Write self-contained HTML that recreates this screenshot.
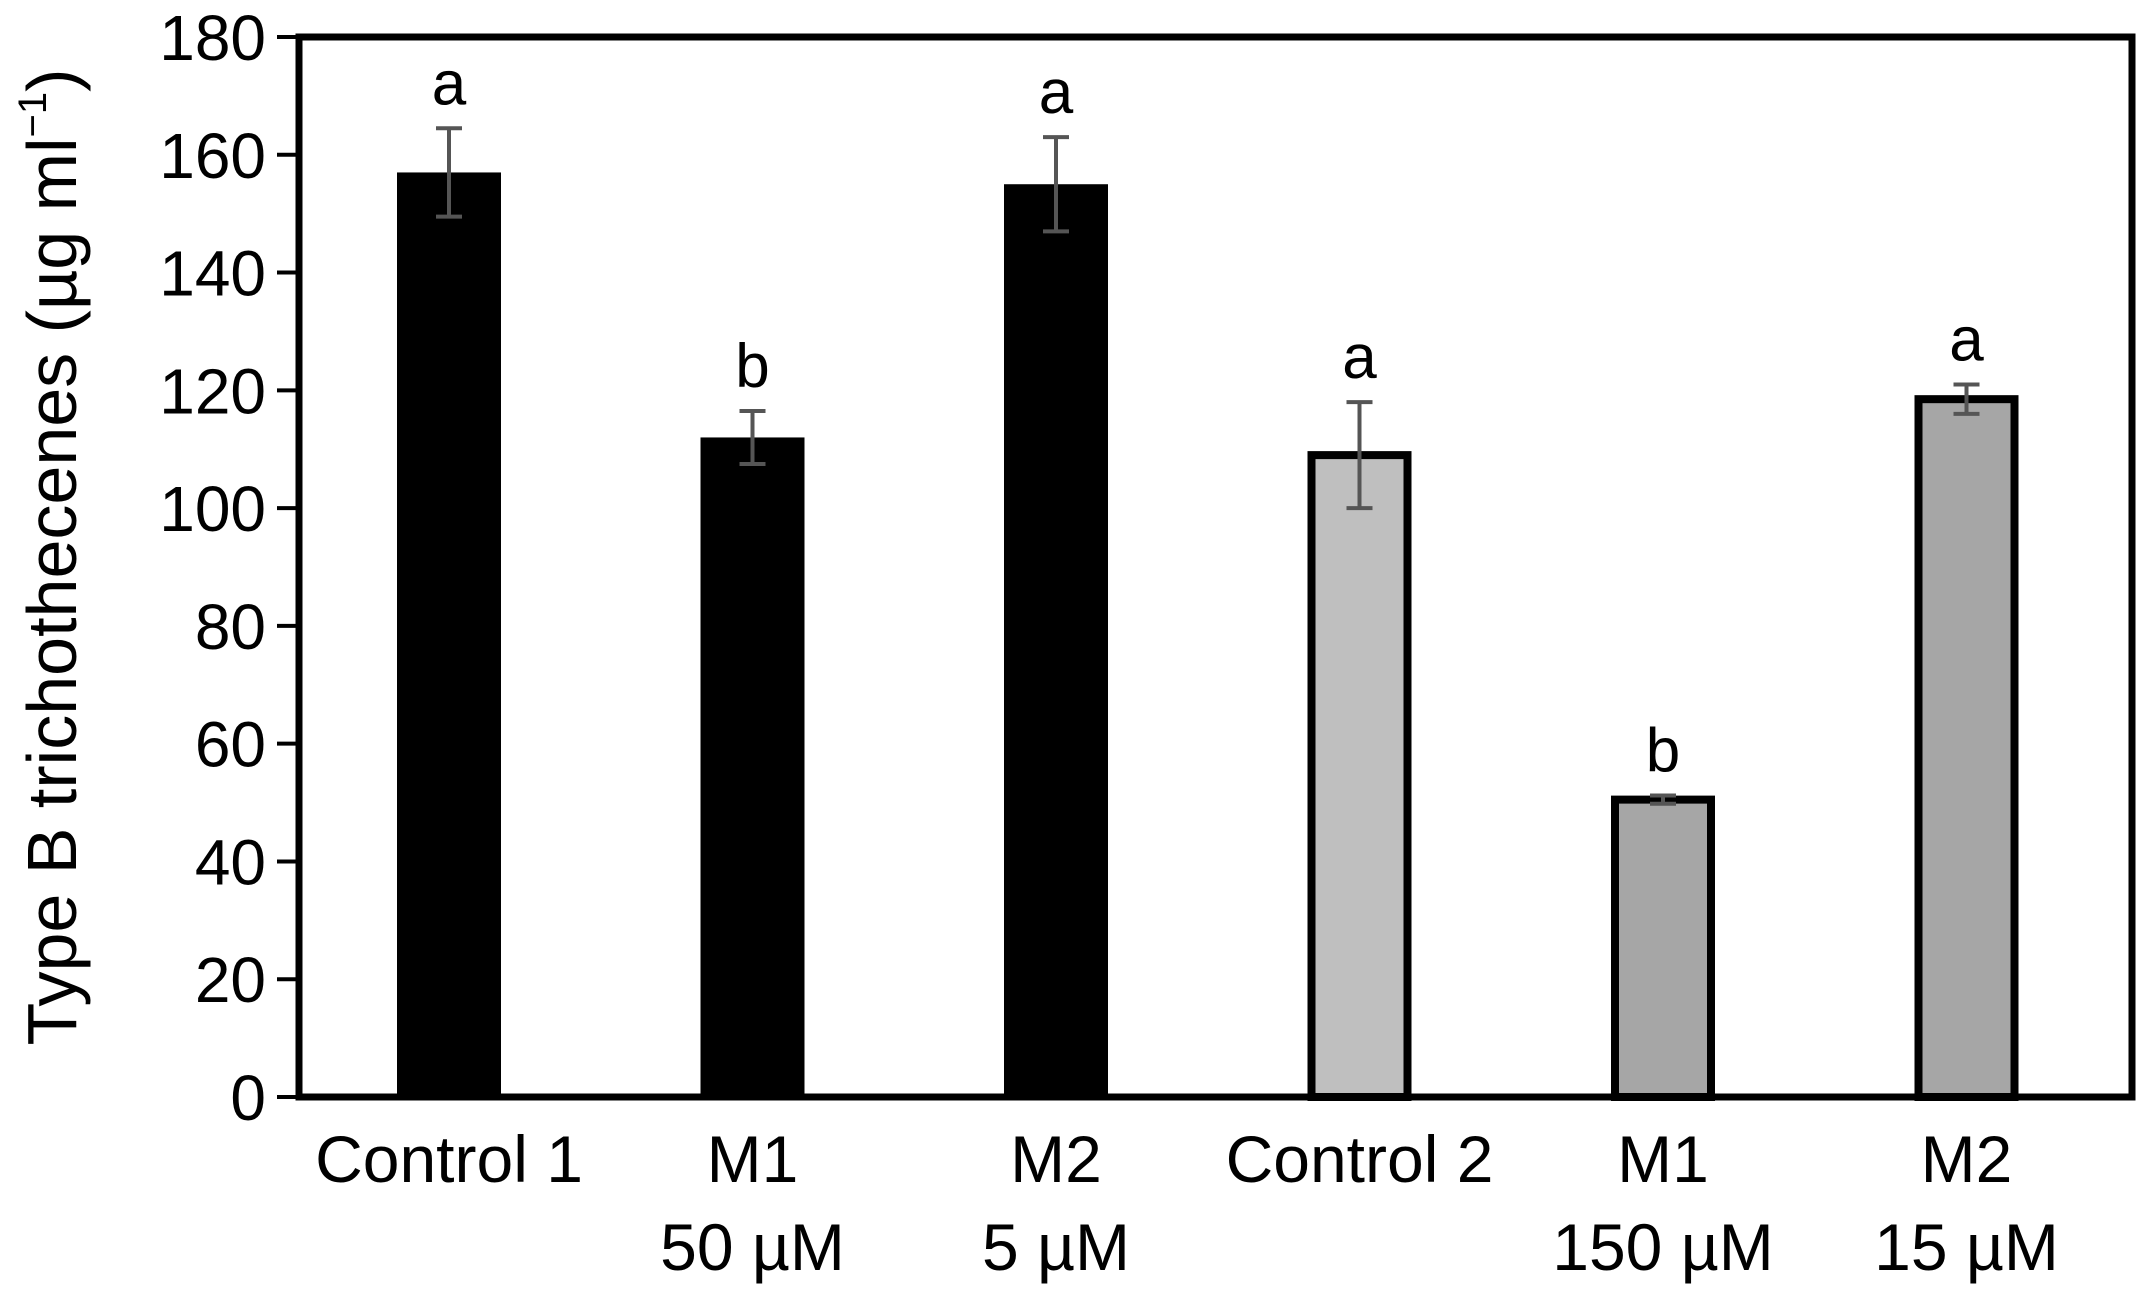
<!DOCTYPE html>
<html><head><meta charset="utf-8"><style>
html,body{margin:0;padding:0;background:#fff;}
svg{display:block;font-family:"Liberation Sans",Arial,sans-serif;}
</style></head><body>
<svg id="chart" width="2140" height="1293" viewBox="0 0 2140 1293">
<text transform="translate(76,557) rotate(-90)" text-anchor="middle" font-size="70">Type B trichothecenes (µg ml<tspan font-size="40" dy="-30">−1</tspan><tspan dy="30">)</tspan></text>
</svg>
<script>
const categories=[["Control 1"],["M1","50 µM"],["M2","5 µM"],["Control 2"],["M1","150 µM"],["M2","15 µM"]];
const values=[157,112,155,109,50.5,118.5];
const errors=[7.5,4.5,8,9,0.7,2.5];
const letters=["a","b","a","a","b","a"];
const fills=["#000000","#000000","#000000","#bfbfbf","#a6a6a6","#a6a6a6"];
const yTicks=[0,20,40,60,80,100,120,140,160,180];
const NS="http://www.w3.org/2000/svg";
const svg=document.getElementById('chart');
const L=299,R=2132,T=37,B=1097,yMax=180;
const y=v=>B-(v/yMax)*(B-T);
const slot=303.5;
const x=i=>449+slot*i;
function mk(tag,attrs,parent){const e=document.createElementNS(NS,tag);for(const k in attrs)e.setAttribute(k,attrs[k]);(parent||svg).appendChild(e);return e;}
yTicks.forEach(t=>{
  const ln=mk('line',{x1:L-22,x2:L,y1:y(t),y2:y(t),stroke:'#000','stroke-width':4});
  
  
  const tx=mk('text',{x:266,y:y(t)+23,'text-anchor':'end','font-size':64});
  
  
  tx.textContent=t;
});
const bw=104;
values.forEach((v,i)=>{
  const cx=x(i);
  const black=fills[i]==="#000000";
  const r=mk('rect',{x:cx-bw/2+(black?0:4),y:y(v),width:bw-(black?0:8),height:B-y(v),fill:fills[i],stroke:black?'none':'#000','stroke-width':8});
  
  
  const g=mk('g',{stroke:'#555','stroke-width':4});
  
  
  const hi=y(v+errors[i]),lo=y(v-errors[i]);
  mk('line',{x1:cx,x2:cx,y1:hi,y2:lo},g);
  mk('line',{x1:cx-13,x2:cx+13,y1:hi,y2:hi},g);
  mk('line',{x1:cx-13,x2:cx+13,y1:lo,y2:lo},g);
  const lt=mk('text',{x:cx,y:hi-24,'text-anchor':'middle','font-size':62});
  
  
  lt.textContent=letters[i];
  categories[i].forEach((line,j)=>{
    const ct=mk('text',{x:cx,y:1182+j*88,'text-anchor':'middle','font-size':66});
    
    
    ct.textContent=line;
  });
});
const fr=mk('rect',{x:L,y:T,width:R-L,height:B-T,fill:'none',stroke:'#000','stroke-width':7});


</script>
</body></html>
